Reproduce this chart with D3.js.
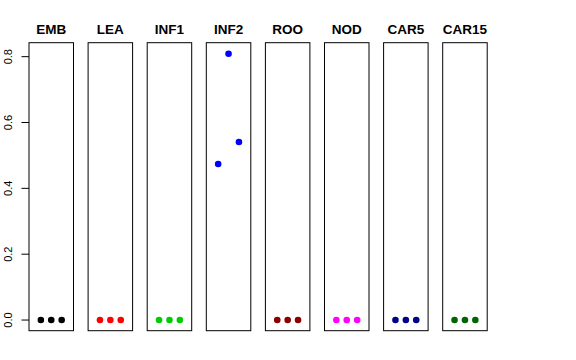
<!DOCTYPE html>
<html>
<head>
<meta charset="utf-8">
<script src="https://d3js.org/d3.v7.min.js"></script>
<style>
  body { margin: 0; background: #fff; }
  svg { display: block; font-family: "Liberation Sans", Arial, sans-serif; }
</style>
</head>
<body>
<svg id="chart" width="576" height="360"></svg>
<script>
var panels = ["EMB", "LEA", "INF1", "INF2", "ROO", "NOD", "CAR5", "CAR15"];
var colours = ["#000000", "#ff0000", "#00cd00", "#0000ff", "#8b0000", "#ff00ff", "#00008b", "#006400"];
var values = [
  [0, 0, 0],
  [0, 0, 0],
  [0, 0, 0],
  [0.474, 0.809, 0.541],
  [0, 0, 0],
  [0, 0, 0],
  [0, 0, 0],
  [0, 0, 0]
];
var yTicks = [0, 0.2, 0.4, 0.6, 0.8];

var plotTop = 42.7, plotBottom = 330.7;
var panelW = 44.5, firstX = 29, step = 59.1;

var svg = d3.select("#chart");

var y = d3.scaleLinear().domain([-0.0324, 0.8424]).range([plotBottom, plotTop]);
var panelX = function(i) { return firstX + i * step; };

// y axis (left of first panel)
var axis = svg.append("g").attr("transform", "translate(" + firstX + ",0)");
axis.selectAll("line")
    .data(yTicks)
  .enter()
    .append("line")
    .attr("x1", -7.5).attr("x2", 0)
    .attr("y1", function(d) { return y(d); })
    .attr("y2", function(d) { return y(d); })
    .attr("stroke", "#000");
axis.selectAll("text")
    .data(yTicks)
  .enter()
    .append("text")
    .attr("transform", function(d) { return "translate(-17," + y(d) + ") rotate(-90)"; })
    .attr("text-anchor", "middle")
    .attr("font-size", 11)
    .text(function(d) { return d.toFixed(1); });

var g = svg.selectAll("g.panel")
    .data(panels)
  .enter()
    .append("g")
    .attr("class", "panel")
    .attr("transform", function(d, i) { return "translate(" + panelX(i) + ",0)"; });

var x = d3.scaleLinear().domain([-0.14, 4.14]).range([0, panelW]);

g.append("rect")
    .attr("x", 0).attr("y", plotTop)
    .attr("width", panelW).attr("height", plotBottom - plotTop)
    .attr("fill", "none")
    .attr("stroke", "#000");

g.append("text")
    .attr("x", panelW / 2).attr("y", 34)
    .attr("text-anchor", "middle")
    .attr("font-size", 13.5)
    .attr("font-weight", "bold")
    .text(function(d) { return d; });

g.selectAll("circle")
    .data(function(d, i) { return values[i].map(function(v) { return { v: v, c: colours[i] }; }); })
  .enter()
    .append("circle")
    .attr("cx", function(d, j) { return x(j + 1); })
    .attr("cy", function(d) { return y(d.v); })
    .attr("r", 3.3)
    .attr("fill", function(d) { return d.c; });
</script>
</body>
</html>
